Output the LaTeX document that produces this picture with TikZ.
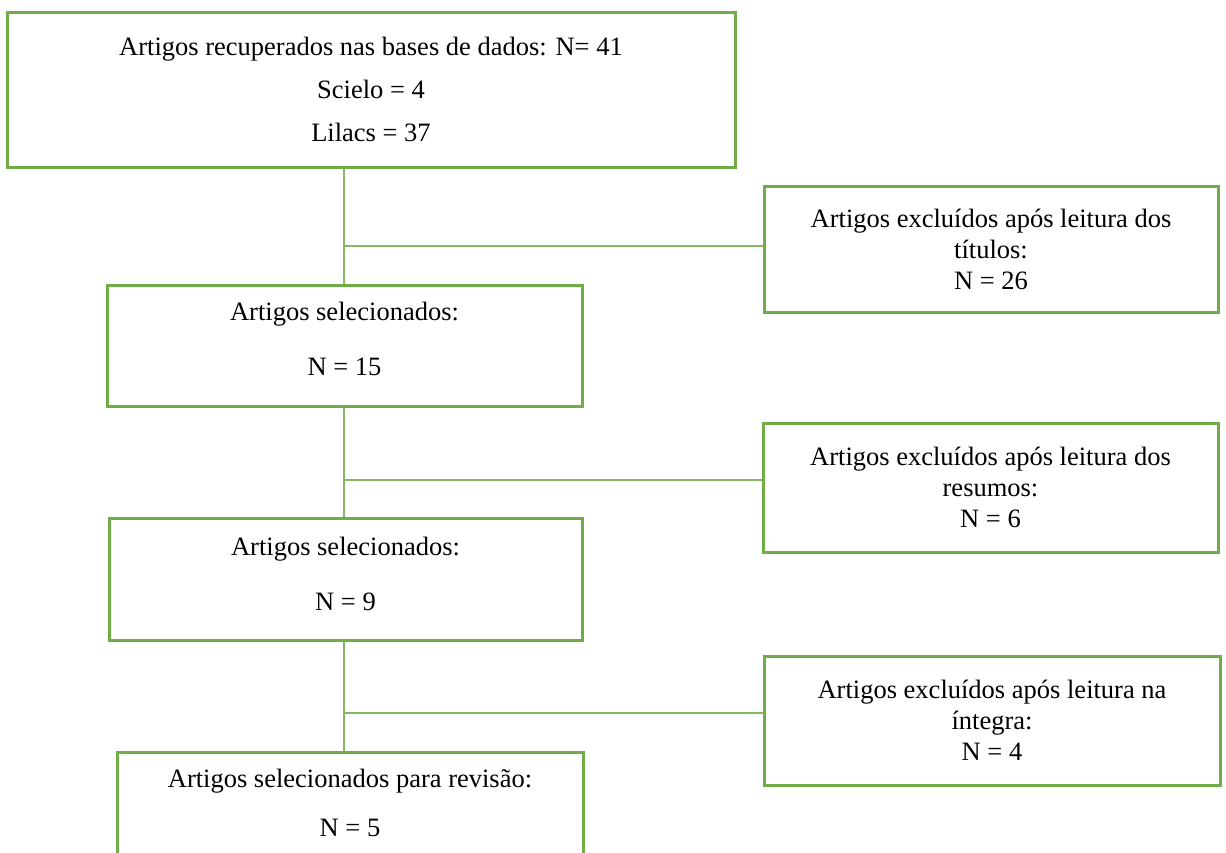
\documentclass[tikz,border=0pt]{standalone}
\usepackage{fontspec}
\setmainfont{Liberation Serif}
\definecolor{boxgreen}{HTML}{70AD47}
\definecolor{linkgreen}{HTML}{84B962}
\begin{document}
\begin{tikzpicture}[x=1pt,y=-1pt,
  box/.style={draw=boxgreen, line width=3pt, rectangle, inner sep=0pt, align=center,
              font=\fontsize{26.5}{31}\selectfont},
  txt/.style={font=\fontsize{26.5}{31}\selectfont, inner sep=0pt, anchor=base},
  link/.style={draw=linkgreen, line width=1.4pt}]
\useasboundingbox (0,0) rectangle (1226,852);
\clip (0,0) rectangle (1226,852);

% coordinates of the junctions
\coordinate (j1) at (344,246);
\coordinate (j2) at (344,480);
\coordinate (j3) at (344,713);

% main column boxes
\node[box, minimum width=728pt, minimum height=155pt, font=\fontsize{26.5}{43}\selectfont] (b1) at (371,89.5)
  {Artigos recuperados nas bases de dados: N= 41\\Scielo = 4\\Lilacs = 37};
\node[box, minimum width=475pt, minimum height=121pt] (b2) at (344.5,345.5) {};
\node[box, minimum width=473pt, minimum height=122pt] (b3) at (345.5,579) {};
\node[box, minimum width=466pt, minimum height=118pt] (b4) at (350,811) {};

\node[txt] (b2a) at (344.5,320) {Artigos selecionados:};
\node[txt] (b2b) at (344.5,375) {N = 15};
\node[txt] (b3a) at (345.5,555) {Artigos selecionados:};
\node[txt] (b3b) at (345.5,610) {N = 9};
\node[txt] (b4a) at (350,787) {Artigos selecionados para revisão:};
\node[txt] (b4b) at (350,836) {N = 5};

% exclusion boxes
\node[box, minimum width=454pt, minimum height=126pt] (r1) at (991,249)
  {Artigos excluídos após leitura dos\\títulos:\\N = 26};
\node[box, minimum width=455pt, minimum height=129pt] (r2) at (990.5,487.5)
  {Artigos excluídos após leitura dos\\resumos:\\N = 6};
\node[box, minimum width=456pt, minimum height=129pt] (r3) at (992,720.5)
  {Artigos excluídos após leitura na\\íntegra:\\N = 4};

% connectors
\draw[link] (b1.south -| j1) -- (b2.north -| j1);
\draw[link] (j1) -- (j1 -| r1.west);
\draw[link] (b2.south -| j2) -- (b3.north -| j2);
\draw[link] (j2) -- (j2 -| r2.west);
\draw[link] (b3.south -| j3) -- (b4.north -| j3);
\draw[link] (j3) -- (j3 -| r3.west);
\end{tikzpicture}
\end{document}
